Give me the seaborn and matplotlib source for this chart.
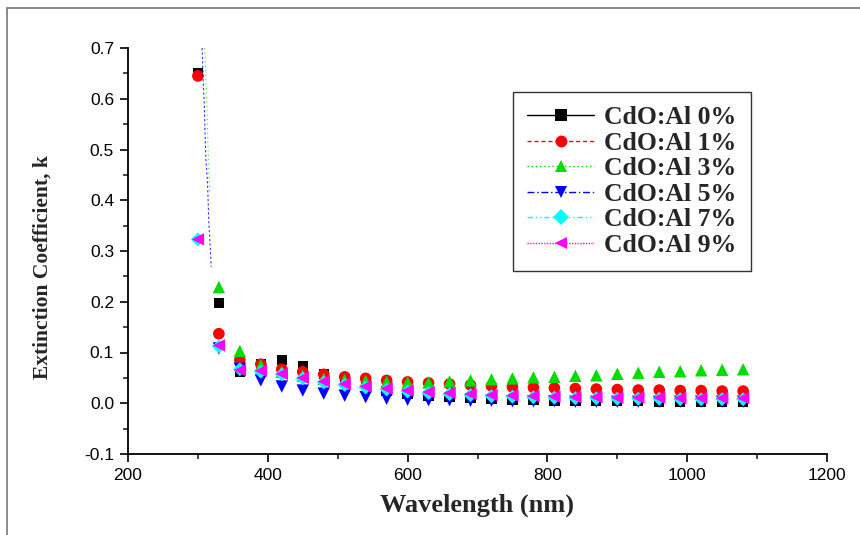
import numpy as np
import pandas as pd
import matplotlib
matplotlib.use("Agg")
import matplotlib.pyplot as plt
from matplotlib.lines import Line2D
from matplotlib.patches import Rectangle
from matplotlib.ticker import MultipleLocator
import seaborn as sns

# ---------------- data ----------------
wavelength = [300, 330, 360, 390, 420, 450, 480, 510, 540, 570, 600, 630, 660, 690,
              720, 750, 780, 810, 840, 870, 900, 930, 960, 990, 1020, 1050, 1080]

k_0 = [0.650, 0.197, 0.062, 0.078, 0.085, 0.073, 0.057, 0.048, 0.038, 0.024, 0.018, 0.014,
       0.012, 0.010, 0.008, 0.007, 0.006, 0.005, 0.005, 0.004, 0.004, 0.004, 0.003, 0.003,
       0.003, 0.003, 0.003]
k_1 = [0.645, 0.137, 0.085, 0.077, 0.067, 0.062, 0.057, 0.052, 0.049, 0.045, 0.042, 0.040,
       0.038, 0.036, 0.034, 0.032, 0.031, 0.030, 0.029, 0.028, 0.027, 0.026, 0.026, 0.025,
       0.025, 0.024, 0.024]
k_3 = [0.900, 0.229, 0.103, 0.075, 0.062, 0.054, 0.048, 0.046, 0.044, 0.042, 0.041, 0.041,
       0.043, 0.045, 0.047, 0.049, 0.051, 0.052, 0.054, 0.055, 0.058, 0.060, 0.062, 0.063,
       0.065, 0.066, 0.067]
k_5 = [0.950, 0.108, 0.068, 0.045, 0.033, 0.025, 0.019, 0.015, 0.012, 0.009, 0.007, 0.006,
       0.006, 0.005, 0.005, 0.004, 0.004, 0.004, 0.003, 0.003, 0.003, 0.003, 0.003, 0.003,
       0.003, 0.003, 0.003]
k_7 = [0.323, 0.112, 0.067, 0.062, 0.057, 0.049, 0.041, 0.036, 0.031, 0.027, 0.023, 0.020,
       0.018, 0.016, 0.014, 0.013, 0.012, 0.011, 0.010, 0.010, 0.009, 0.009, 0.009, 0.008,
       0.008, 0.008, 0.008]
k_9 = [0.323, 0.114, 0.065, 0.064, 0.058, 0.050, 0.043, 0.038, 0.033, 0.029, 0.025, 0.022,
       0.020, 0.018, 0.016, 0.015, 0.014, 0.013, 0.012, 0.012, 0.011, 0.011, 0.011, 0.010,
       0.010, 0.010, 0.010]

# absorption-edge traces (dense data near the edge, only the line is visible)
edge_wl_5 = [306.0, 307.6, 309.0, 310.5, 311.4, 313.3, 314.3, 315.7, 317.1, 318.1, 319.0]
edge_k_5 = [0.700, 0.636, 0.593, 0.518, 0.482, 0.445, 0.413, 0.354, 0.321, 0.295, 0.269]
edge_wl_3 = [309.8, 312.4, 313.8, 315.2, 317.1]
edge_k_3 = [0.700, 0.610, 0.537, 0.472, 0.413]

labels = ["CdO:Al 0%", "CdO:Al 1%", "CdO:Al 3%", "CdO:Al 5%", "CdO:Al 7%", "CdO:Al 9%"]
series = [k_0, k_1, k_3, k_5, k_7, k_9]

colors = ["#000000", "#ff0000", "#00dd00", "#0000ff", "#00ffff", "#ff00ff"]
markers = ["s", "o", "^", "v", "D", "<"]
sizes = [55, 70, 80, 80, 50, 80]
linestyles = ["-", (0, (3, 2)), (0, (1, 2)), (0, (5, 2, 1, 2)), (0, (4, 2, 1, 2, 1, 2)), (0, (1, 1))]

# ---------------- figure ----------------
sns.set_style("ticks")
plt.rcParams["font.family"] = ["Liberation Sans", "DejaVu Sans"]

fig = plt.figure(figsize=(8.6, 5.35), dpi=100)
ax = fig.add_axes([128 / 860, 81 / 535, (827 - 128) / 860, (454 - 48) / 535])

# outer gray frame
fig.patches.append(Rectangle((7 / 860, -0.05), 1.2, 1 - 8 / 535 + 0.05,
                             transform=fig.transFigure, fill=False,
                             edgecolor="#777777", linewidth=1.2, zorder=0))

ax.plot(edge_wl_3, edge_k_3, color=colors[2], linestyle=(0, (1, 3)), linewidth=0.8, alpha=0.8)
ax.plot(edge_wl_5, edge_k_5, color=colors[3], linestyle=(0, (2, 2)), linewidth=0.8, alpha=0.8)

for vals, lab, c, m, s in zip(series, labels, colors, markers, sizes):
    df = pd.DataFrame({"Wavelength": wavelength, "k": vals})
    sns.scatterplot(data=df, x="Wavelength", y="k", color=c, marker=m, s=s,
                    edgecolor="none", linewidth=0, ax=ax, legend=False)

ax.set_xlim(200, 1200)
ax.set_ylim(-0.1, 0.7)
ax.xaxis.set_major_locator(MultipleLocator(200))
ax.xaxis.set_minor_locator(MultipleLocator(100))
ax.yaxis.set_major_locator(MultipleLocator(0.1))
ax.yaxis.set_minor_locator(MultipleLocator(0.05))
ax.set_yticklabels([f"{v:.1f}" for v in ax.get_yticks()])
ax.tick_params(axis="both", which="major", direction="out", length=6, width=1.2,
               labelsize=12.5, colors="black", pad=4)
ax.tick_params(axis="both", which="minor", direction="out", length=3.5, width=1.2)
for sp in ["left", "bottom"]:
    ax.spines[sp].set_linewidth(1.3)
    ax.spines[sp].set_color("black")
sns.despine(ax=ax)

ax.set_xlabel("Wavelength (nm)", fontfamily="Liberation Serif", fontweight="bold",
              fontsize=19, labelpad=8)
ax.set_ylabel("Extinction Coefficient, k", fontfamily="Liberation Serif", fontweight="bold",
              fontsize=15.5)
ax.yaxis.set_label_coords((53 - 128) / 699, (454 - 267) / 406)

handles = [Line2D([0], [0], color=c, marker=m, linestyle=ls, linewidth=1.0,
                  markersize=8.5, markeredgewidth=0)
           for c, m, ls in zip(colors, markers, linestyles)]
leg = ax.legend(handles, labels, loc="upper left", bbox_to_anchor=(385 / 699, 362 / 406),
                borderaxespad=0, frameon=True, fancybox=False, edgecolor="black",
                handlelength=2.6, numpoints=1, labelspacing=0.1, borderpad=0.55,
                handletextpad=0.4,
                prop={"family": "Liberation Serif", "weight": "bold", "size": 18.5})
leg.get_frame().set_linewidth(1.0)

fig.savefig("out.png", dpi=100)
